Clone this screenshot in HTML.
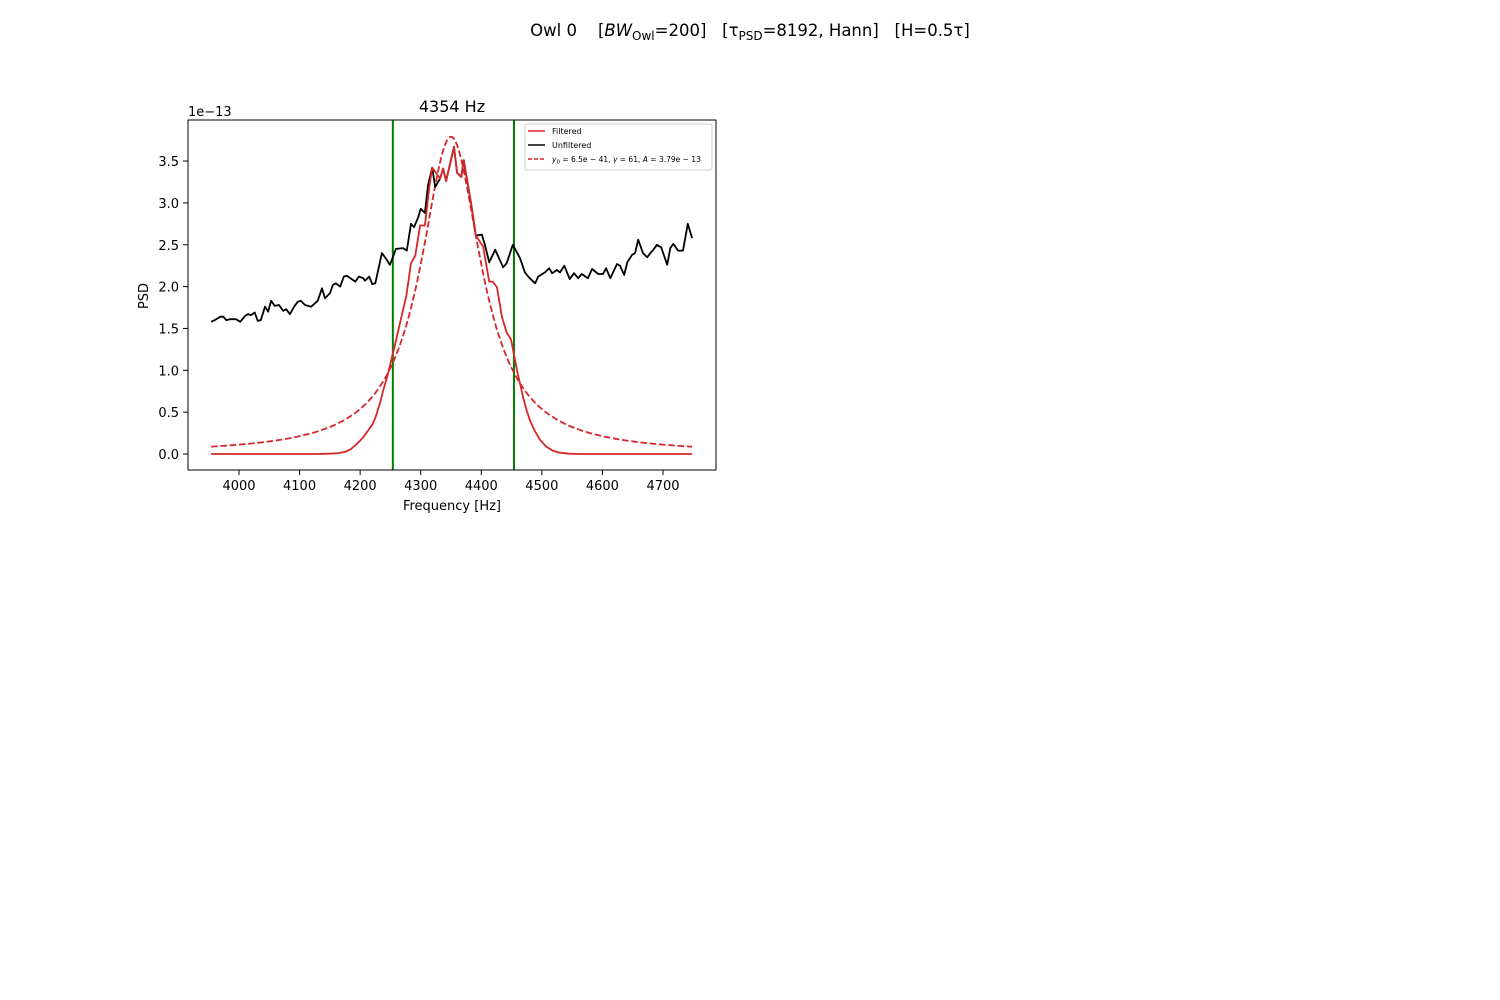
<!DOCTYPE html>
<html><head><meta charset="utf-8"><style>
html,body{margin:0;padding:0;background:#fff;}
svg{display:block;font-family:"DejaVu Sans","Liberation Sans",sans-serif;}
</style></head><body>
<svg id="fig" width="1500" height="1000" viewBox="0 0 1500 1000" xmlns="http://www.w3.org/2000/svg">
<rect width="1500" height="1000" fill="#fff"/>
<text x="750" y="36" text-anchor="middle" font-size="16.5" style="white-space:pre" xml:space="preserve">Owl 0    [<tspan font-style="italic">BW</tspan><tspan font-size="12" dy="4">Owl</tspan><tspan dy="-4">=200]   [τ</tspan><tspan font-size="12" dy="4">PSD</tspan><tspan dy="-4">=8192, Hann]   [H=0.5τ]</tspan></text>
<text x="452" y="112" text-anchor="middle" font-size="16">4354 Hz</text>
<text x="188" y="116" font-size="13">1e−13</text>
<text transform="translate(148,296) rotate(-90)" text-anchor="middle" font-size="13">PSD</text>
<text x="452" y="510" text-anchor="middle" font-size="13">Frequency [Hz]</text>
<g id="plot"></g>
<g id="ticks"></g>
<rect x="188" y="120" width="528" height="350" fill="none" stroke="#000" stroke-width="1"/>
<g>
<rect x="525" y="124" width="187" height="46" rx="2" fill="#fff" fill-opacity="0.8" stroke="#ccc" stroke-width="1"/>
<line x1="528" y1="131" x2="545" y2="131" stroke="#d62728" stroke-width="1.5"/>
<text x="552" y="134" font-size="8">Filtered</text>
<line x1="528" y1="145" x2="545" y2="145" stroke="#000" stroke-width="1.5"/>
<text x="552" y="148" font-size="8">Unfiltered</text>
<line x1="528" y1="159" x2="545" y2="159" stroke="#d62728" stroke-width="1.5" stroke-dasharray="4,2"/>
<text x="552" y="162" font-size="7.5"><tspan font-style="italic">y</tspan><tspan font-size="5.5" dy="1.5">0</tspan><tspan dy="-1.5"> = 6.5e − 41, </tspan><tspan font-style="italic">γ</tspan> = 61, <tspan font-style="italic">A</tspan> = 3.79e − 13</text>
</g>
</svg>
<script>
const unfFreq=[3954,3960,3969,3974,3979,3985,3995,4002,4010,4015,4020,4026,4031,4036,4043,4048,4053,4059,4066,4073,4078,4084,4091,4097,4102,4109,4119,4130,4137,4142,4150,4155,4160,4167,4173,4178,4192,4198,4205,4208,4215,4220,4225,4236,4243,4249,4254,4259,4271,4277,4284,4289,4296,4300,4307,4312,4319,4324,4332,4337,4342,4355,4360,4367,4371,4376,4383,4386,4391,4401,4406,4413,4423,4436,4442,4452,4464,4472,4480,4489,4494,4505,4512,4517,4525,4530,4537,4546,4553,4560,4566,4576,4583,4593,4601,4606,4613,4624,4629,4636,4641,4649,4654,4659,4667,4674,4679,4684,4690,4697,4707,4712,4717,4725,4733,4741,4748];
const unfValues=[1.58,1.60,1.64,1.64,1.60,1.61,1.61,1.58,1.65,1.67,1.66,1.69,1.59,1.60,1.76,1.70,1.83,1.77,1.78,1.71,1.73,1.67,1.76,1.82,1.83,1.78,1.76,1.83,1.98,1.86,1.92,2.02,2.04,2.00,2.12,2.13,2.06,2.12,2.10,2.07,2.12,2.03,2.04,2.40,2.33,2.26,2.35,2.45,2.46,2.43,2.75,2.71,2.83,2.93,2.88,3.21,3.42,3.19,3.29,3.41,3.26,3.67,3.36,3.31,3.51,3.30,3.00,2.86,2.61,2.62,2.50,2.29,2.44,2.23,2.28,2.50,2.34,2.17,2.10,2.04,2.12,2.17,2.22,2.16,2.20,2.17,2.25,2.09,2.16,2.10,2.15,2.10,2.21,2.15,2.15,2.22,2.10,2.27,2.25,2.14,2.29,2.38,2.40,2.56,2.40,2.35,2.40,2.44,2.50,2.47,2.26,2.46,2.51,2.43,2.43,2.75,2.58];
const filFreq=[3954,4130,4150,4165,4175,4185,4196,4205,4213,4220,4225,4233,4238,4246,4258,4267,4276,4284,4291,4299,4307,4314,4319,4332,4337,4342,4355,4360,4367,4371,4376,4383,4391,4403,4413,4419,4426,4434,4442,4449,4459,4469,4475,4480,4488,4497,4507,4518,4530,4545,4565,4748];
const filValues=[0,0,0.003,0.012,0.025,0.06,0.13,0.2,0.28,0.35,0.43,0.61,0.76,0.96,1.32,1.60,1.88,2.28,2.37,2.73,2.73,3.18,3.42,3.29,3.41,3.26,3.67,3.36,3.31,3.51,3.30,3.00,2.61,2.48,2.06,2.06,1.99,1.64,1.45,1.37,1.00,0.68,0.52,0.41,0.28,0.17,0.09,0.04,0.015,0.004,0,0];
const fitParams=[4350,61,3.79]; // center, gamma, amplitude (1e-13)
const fitRange=[3954,4748];
const bandEdges=[4254,4454];
const xTicks=[4000,4100,4200,4300,4400,4500,4600,4700];
const yTicks=[0.0,0.5,1.0,1.5,2.0,2.5,3.0,3.5];

const NS="http://www.w3.org/2000/svg";
const X=f=>239+(f-4000)*0.6057;
const Y=v=>454-v*83.7;
const plot=document.getElementById('plot');
const ticks=document.getElementById('ticks');
function mk(tag,attrs,parent){const e=document.createElementNS(NS,tag);for(const k in attrs)e.setAttribute(k,attrs[k]);parent.appendChild(e);return e;}

bandEdges.forEach((b,i)=>{
  const l=mk('line',{x1:X(b),x2:X(b),y1:120,y2:470,stroke:'#008000','stroke-width':2},plot);
  
  
});
let pts=[];
for(let f=fitRange[0];f<=fitRange[1];f+=2){
  const g=fitParams[1];const v=fitParams[2]*g*g/((f-fitParams[0])**2+g*g);
  pts.push(X(f).toFixed(1)+','+Y(v).toFixed(1));
}
const fit=mk('polyline',{points:pts.join(' '),fill:'none',stroke:'#d62728','stroke-width':1.8,'stroke-dasharray':'6.5,2.8'},plot);


const unf=mk('polyline',{points:unfFreq.map((f,i)=>X(f).toFixed(1)+','+Y(unfValues[i]).toFixed(1)).join(' '),fill:'none',stroke:'#000','stroke-width':1.8,'stroke-linejoin':'round'},plot);


const fil=mk('polyline',{points:filFreq.map((f,i)=>X(f).toFixed(1)+','+Y(filValues[i]).toFixed(1)).join(' '),fill:'none',stroke:'#d62728','stroke-width':1.8,'stroke-linejoin':'round'},plot);



xTicks.forEach(t=>{
  const l=mk('line',{x1:X(t),x2:X(t),y1:470,y2:475,stroke:'#000'},ticks);
  
  
  const tx=mk('text',{x:X(t),y:490,'text-anchor':'middle','font-size':13},ticks);
  tx.textContent=t;
  
  
});
yTicks.forEach(t=>{
  const l=mk('line',{x1:183,x2:188,y1:Y(t),y2:Y(t),stroke:'#000'},ticks);
  
  
  const tx=mk('text',{x:179,y:Y(t)+5,'text-anchor':'end','font-size':13},ticks);
  tx.textContent=t.toFixed(1);
  
  
});
</script>
</body></html>
